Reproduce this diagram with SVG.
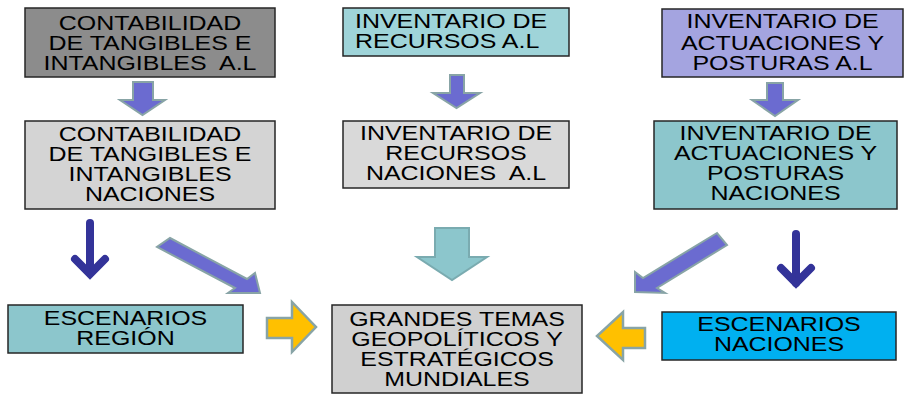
<svg xmlns="http://www.w3.org/2000/svg" width="905" height="397" viewBox="0 0 905 397">
<style>
.box{stroke:#262626;stroke-width:1.5}
.t{font-family:"Liberation Sans",Arial,sans-serif;font-size:19.5px;fill:#000;text-anchor:middle}
.ts{font-family:"Liberation Sans",Arial,sans-serif;font-size:19.5px;fill:#000;text-anchor:start}
.pa{fill:#6b6bd0;stroke:#88a4a6;stroke-width:2;stroke-linejoin:miter}
.ta{fill:#8cc6cc;stroke:#7aabb0;stroke-width:2}
.ya{fill:#ffc000;stroke:#88a4a6;stroke-width:2.5}
.la{fill:none;stroke:#333399;stroke-width:8;stroke-linecap:round}
</style>
<rect width="905" height="397" fill="#ffffff"/>

<g id="connectors">
  <polygon class="pa" points="133,82 153,82 153,100 165,100 142.5,115 120,100 133,100"/>
  <polygon class="pa" points="450,75 464,75 464,93 480,93 456.5,108 433,93 450,93"/>
  <polygon class="pa" points="767,83 783,83 783,100 798,100 775,116 752,100 767,100"/>
  <path class="la" d="M90,223 V273"/>
  <path class="la" d="M75,259 L90,274 L105,259" style="stroke-linejoin:miter"/>
  <path class="la" d="M796,234 V283"/>
  <path class="la" d="M781,268 L796,283 L811,268" style="stroke-linejoin:miter"/>
  <polygon class="pa" points="170,238 247,279 255,273 260,293 228,293 235,288 157,247"/>
  <polygon class="pa" points="717,233 643,278 635,272 635,292 665,293 657,288 727,245"/>
  <polygon class="ta" points="435,228 469,228 469,257 487,257 452,280 417,257 435,257"/>
  <polygon class="ya" points="267,318 292,318 292,302 316,327 292,352 292,338 267,338"/>
  <polygon class="ya" points="645,328 623,328 623,312 597,336 623,360 623,348 645,348"/>
</g>

<g id="n1">
  <rect class="box" x="25" y="8" width="250" height="69" fill="#8c8c8c"/>
  <text class="t" transform="translate(150,0) scale(1.28,1)"><tspan x="0" y="30">CONTABILIDAD</tspan><tspan x="0" y="50">DE TANGIBLES E</tspan><tspan x="0" y="70" xml:space="preserve">INTANGIBLES  A.L</tspan></text>
</g>
<g id="n2">
  <rect class="box" x="25" y="121" width="250" height="88" fill="#d4d4d4"/>
  <text class="t" transform="translate(150,0) scale(1.28,1)"><tspan x="0" y="141">CONTABILIDAD</tspan><tspan x="0" y="161">DE TANGIBLES E</tspan><tspan x="0" y="181">INTANGIBLES</tspan><tspan x="0" y="201">NACIONES</tspan></text>
</g>
<g id="n3">
  <rect class="box" x="343" y="8" width="226" height="48" fill="#9fd4d9"/>
  <text class="ts" transform="translate(355,0) scale(1.28,1)"><tspan x="0" y="28">INVENTARIO DE</tspan><tspan x="0" y="48">RECURSOS A.L</tspan></text>
</g>
<g id="n4">
  <rect class="box" x="343" y="121" width="226" height="67" fill="#d9d9d9"/>
  <text class="t" transform="translate(456,0) scale(1.28,1)"><tspan x="0" y="140">INVENTARIO DE</tspan><tspan x="0" y="160.5">RECURSOS</tspan><tspan x="0" y="180.5" xml:space="preserve">NACIONES  A.L</tspan></text>
</g>
<g id="n5">
  <rect class="box" x="662" y="9" width="241" height="68" fill="#a4a4e0"/>
  <text class="t" transform="translate(782.5,0) scale(1.28,1)"><tspan x="0" y="28.5">INVENTARIO DE</tspan><tspan x="0" y="50">ACTUACIONES Y</tspan><tspan x="0" y="70.5">POSTURAS A.L</tspan></text>
</g>
<g id="n6">
  <rect class="box" x="654" y="121" width="243" height="88" fill="#8cc6cc"/>
  <text class="t" transform="translate(775.5,0) scale(1.28,1)"><tspan x="0" y="140">INVENTARIO DE</tspan><tspan x="0" y="160">ACTUACIONES Y</tspan><tspan x="0" y="180">POSTURAS</tspan><tspan x="0" y="200">NACIONES</tspan></text>
</g>
<g id="n7">
  <rect class="box" x="8" y="305" width="235" height="48" fill="#8cc6cc"/>
  <text class="t" transform="translate(125.5,0) scale(1.28,1)"><tspan x="0" y="325">ESCENARIOS</tspan><tspan x="0" y="345">REGIÓN</tspan></text>
</g>
<g id="n8">
  <rect class="box" x="332" y="305" width="250" height="88" fill="#d0d0d0"/>
  <text class="t" transform="translate(457,0) scale(1.28,1)"><tspan x="0" y="326">GRANDES TEMAS</tspan><tspan x="0" y="346">GEOPOLÍTICOS Y</tspan><tspan x="0" y="366">ESTRATÉGICOS</tspan><tspan x="0" y="386">MUNDIALES</tspan></text>
</g>
<g id="n9">
  <rect class="box" x="662" y="312" width="234" height="48" fill="#00b0f0"/>
  <text class="t" transform="translate(779,0) scale(1.28,1)"><tspan x="0" y="331.5">ESCENARIOS</tspan><tspan x="0" y="351.5">NACIONES</tspan></text>
</g>
</svg>
